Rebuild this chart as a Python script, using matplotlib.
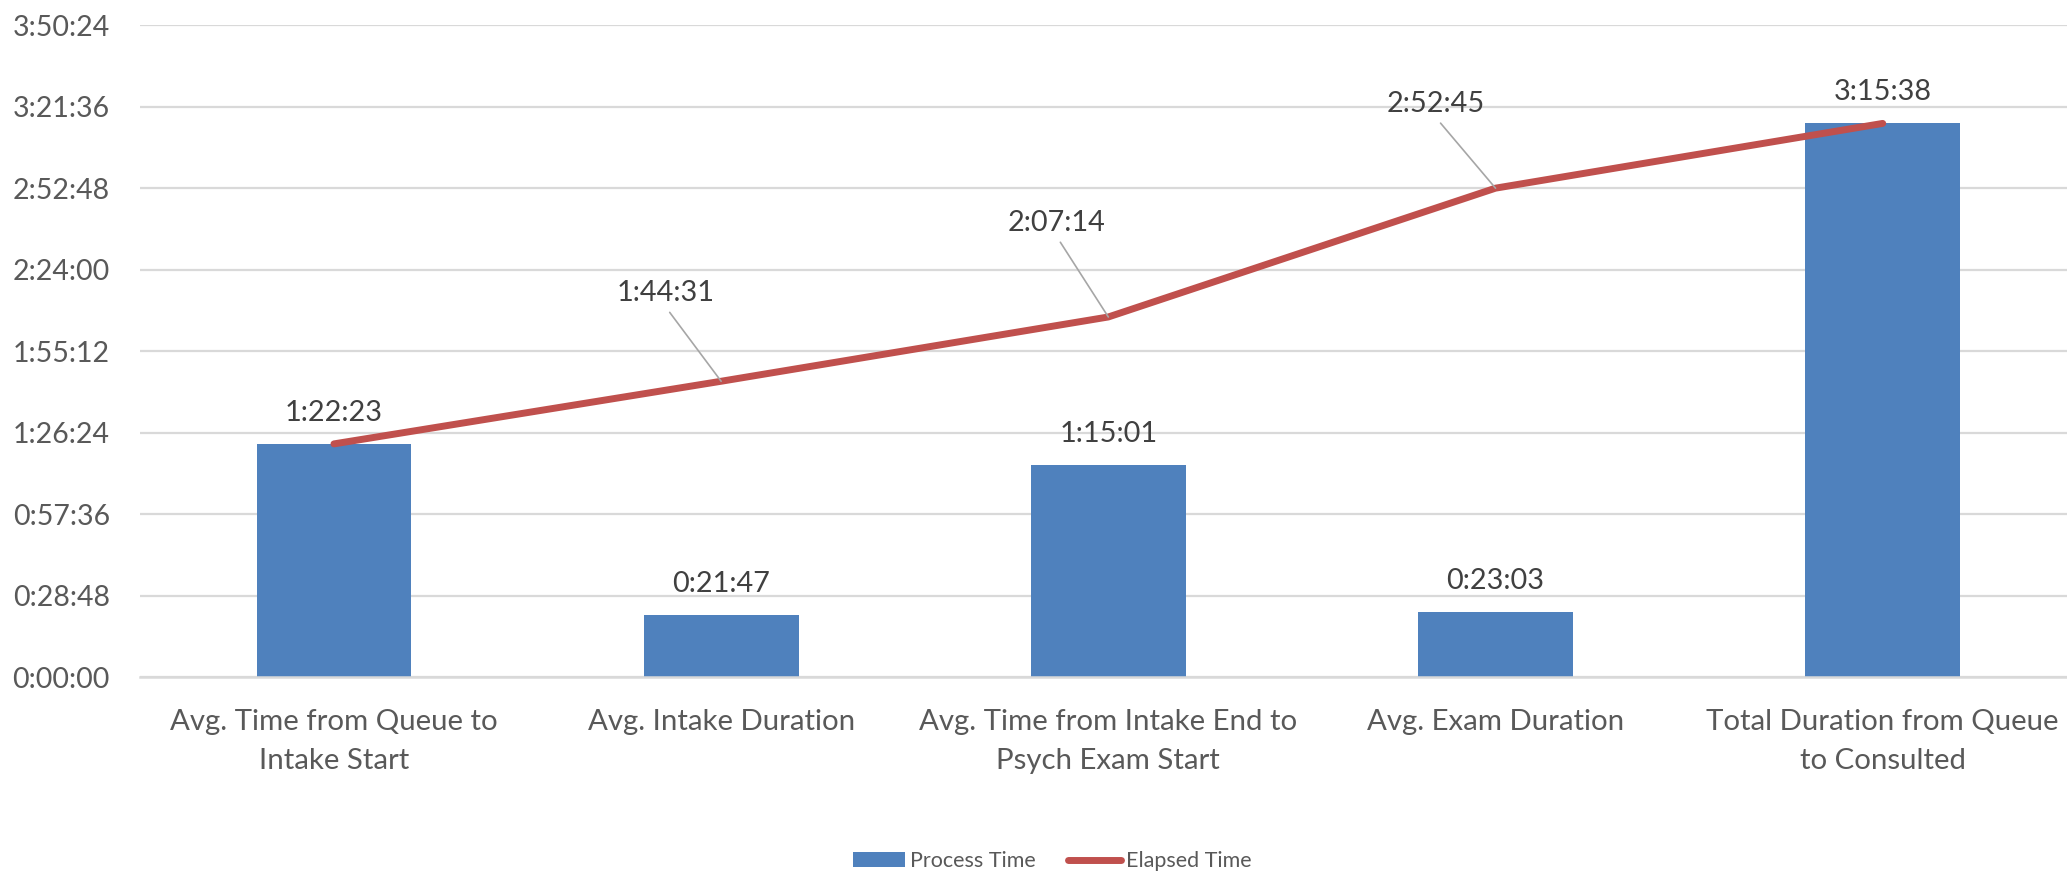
import matplotlib.pyplot as plt
from matplotlib.ticker import MultipleLocator, FuncFormatter

plt.rcParams['font.family'] = ['Lato', 'DejaVu Sans']

# 데이터 (h:mm:ss)
categories = ['Avg. Time from Queue to\nIntake Start',
              'Avg. Intake Duration',
              'Avg. Time from Intake End to\nPsych Exam Start',
              'Avg. Exam Duration',
              'Total Duration from Queue\nto Consulted']
process_time = ['1:22:23', '0:21:47', '1:15:01', '0:23:03', '3:15:38']
elapsed_time = ['1:22:23', '1:44:31', '2:07:14', '2:52:45', '3:15:38']

# line labels shown only where they don't sit on a bar label
line_label_idx = [1, 2, 3]
line_label_offsets = [(-56, 88), (-52, 94), (-60, 84)]  # pixels


def to_sec(s):
    h, m, sec = s.split(':')
    return int(h) * 3600 + int(m) * 60 + int(sec)


def fmt_hms(v, pos=None):
    v = int(round(v))
    return f"{v // 3600}:{(v % 3600) // 60:02d}:{v % 60:02d}"


bar_vals = [to_sec(s) for s in process_time]
line_vals = [to_sec(s) for s in elapsed_time]
x = list(range(len(categories)))

BLUE = '#4F81BD'
RED = '#C0504D'
GRID = '#D9D9D9'

fig = plt.figure(figsize=(20.67, 8.72), dpi=100)
ax = fig.add_axes([0.0679, 0.2236, 0.9366, 0.7477])

bars = ax.bar(x, bar_vals, width=0.4, color=BLUE, zorder=2, label='Process Time')
line, = ax.plot(x, line_vals, color=RED, lw=5, solid_capstyle='round', zorder=3, label='Elapsed Time')

ax.set_xlim(-0.5, 4.5)
ax.set_ylim(0, 13824)
ax.yaxis.set_major_locator(MultipleLocator(1728))
ax.yaxis.set_major_formatter(FuncFormatter(fmt_hms))
ax.grid(axis='y', color=GRID, lw=1.6, zorder=0)
ax.set_axisbelow(True)
for side in ['top', 'right', 'left']:
    ax.spines[side].set_visible(False)
ax.spines['bottom'].set_color(GRID)
ax.spines['bottom'].set_linewidth(1.8)

ax.set_xticks(x)
ax.set_xticklabels(categories, fontsize=21.2, color='#595959', linespacing=1.6)
ax.tick_params(axis='x', length=0, pad=23)
ax.tick_params(axis='y', length=0, pad=22, labelsize=20.5, labelcolor='#595959')

# bar data labels
for i, v in enumerate(bar_vals):
    ax.annotate(process_time[i], (i, v), xytext=(0, 31), textcoords='offset pixels',
                ha='center', va='center', fontsize=20.8, color='#404040', zorder=4)

# line data labels with leader lines
for i, (dx, dy) in zip(line_label_idx, line_label_offsets):
    ax.annotate(elapsed_time[i], (i, line_vals[i]), xytext=(dx, dy), textcoords='offset pixels',
                ha='center', va='center', fontsize=20.8, color='#404040', zorder=4,
                arrowprops=dict(arrowstyle='-', color='#A6A6A6', lw=1.2,
                                relpos=(0.5, 0), shrinkA=3, shrinkB=0))

fig.legend(handles=[bars, line], loc='center', bbox_to_anchor=(0.509, 0.0126), ncol=2,
           frameon=False, fontsize=15.5, labelcolor='#595959', handlelength=2.45,
           handleheight=0.65, handletextpad=0.23, columnspacing=1.5)

plt.savefig('out.png', dpi=100)
